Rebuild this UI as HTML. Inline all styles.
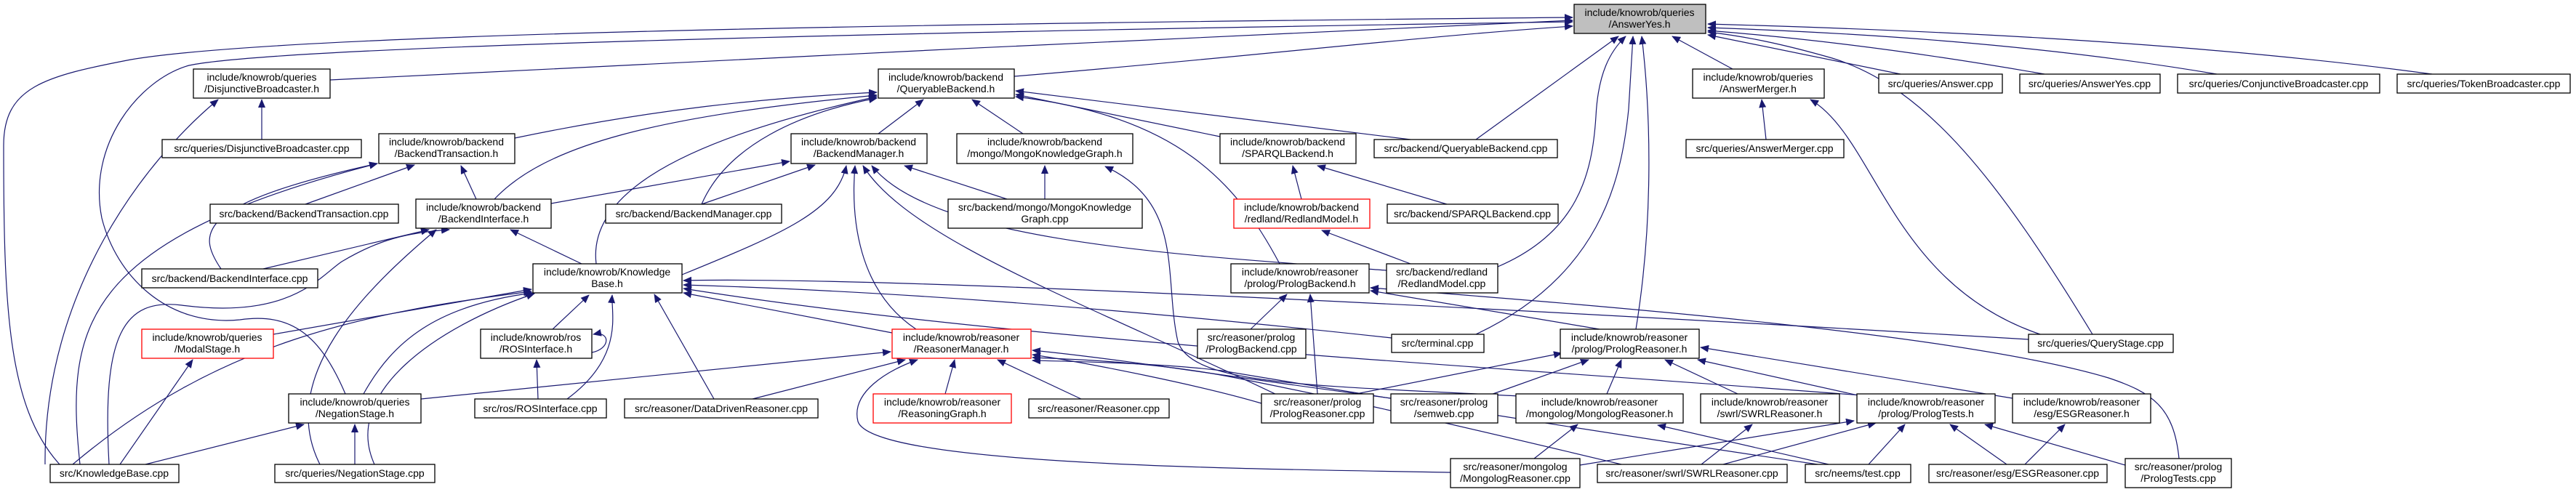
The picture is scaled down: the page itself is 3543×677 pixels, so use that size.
<!DOCTYPE html>
<html><head><meta charset="utf-8"><style>
html,body{margin:0;padding:0;background:#fff}
svg{display:block}
text{font-family:"Liberation Sans",sans-serif;font-size:14px;fill:#000;text-anchor:middle}
.n{fill:#fff;stroke:#000;stroke-width:1.3}
.r{fill:#fff;stroke:#f00;stroke-width:1.3}
.g{fill:#bfbfbf;stroke:#000;stroke-width:1.3}
.e{fill:none;stroke:#191970;stroke-width:1.2;marker-end:url(#a)}
</style></head><body>
<svg width="3543" height="677" viewBox="0 0 3543 677" xmlns="http://www.w3.org/2000/svg">
<defs><marker id="a" markerUnits="userSpaceOnUse" markerWidth="12" markerHeight="10" refX="11" refY="5" orient="auto"><path d="M0,0 L12,5 L0,10 z" fill="#191970"/></marker></defs>
<g>
<!-- edges to AnswerYes -->
<path class="e" d="M454,110 C900,85 1700,50 2163,28"/>
<path class="e" d="M82,639 C10,560 5,420 5,200 C5,120 60,105 180,82 C400,45 1300,32 2163,24"/>
<path class="e" d="M475,542 C440,460 400,430 330,440 C230,450 160,380 140,300 C120,200 190,110 260,90 C400,60 1500,40 2163,30"/>
<path class="e" d="M1395,105 C1700,80 1950,50 2163,36"/>
<path class="e" d="M2030,192 L2226,50"/>
<path class="e" d="M2060,367 C2170,320 2190,240 2195,160 C2198,100 2215,70 2236,50"/>
<path class="e" d="M2030,460 C2200,380 2230,250 2240,150 L2246,50"/>
<path class="e" d="M2250,453 C2275,300 2270,150 2258,50"/>
<path class="e" d="M2383,95 L2300,50"/>
<path class="e" d="M2614,102 L2349,48"/>
<path class="e" d="M2812,102 C2600,65 2450,50 2349,42"/>
<path class="e" d="M3049,102 C2800,60 2550,45 2349,38"/>
<path class="e" d="M3345,102 C3000,55 2600,40 2349,33"/>
<path class="e" d="M2878,460 C2750,250 2650,120 2520,80 C2450,60 2400,50 2349,44"/>
<!-- AnswerMerger -->
<path class="e" d="M2429,192 L2423,137"/>
<path class="e" d="M2806,460 C2600,390 2580,190 2490,137"/>
<!-- Disjunctive -->
<path class="e" d="M360,192 L360,137"/>
<path class="e" d="M62,639 C60,400 200,220 300,137"/>
<!-- QueryableBackend.h -->
<path class="e" d="M708,190 C900,150 1050,135 1206,127"/>
<path class="e" d="M680,274 C750,200 900,160 1206,131"/>
<path class="e" d="M965,281 C1000,200 1100,155 1206,135"/>
<path class="e" d="M820,363 C810,280 900,200 1206,133"/>
<path class="e" d="M1208,184 L1270,137"/>
<path class="e" d="M1407,184 L1337,137"/>
<path class="e" d="M1678,188 L1397,130"/>
<path class="e" d="M1940,192 L1397,125"/>
<path class="e" d="M1760,363 C1700,250 1620,160 1397,133"/>
<!-- MongoKnowledgeGraph.h -->
<path class="e" d="M2090,545 C1800,530 1640,530 1620,470 C1600,380 1630,280 1520,229"/>
<!-- BackendTransaction -->
<path class="e" d="M420,281 L570,227"/>
<path class="e" d="M655,274 L634,228"/>
<path class="e" d="M304,370 C270,320 270,280 519,225"/>
<path class="e" d="M110,639 C90,450 110,330 519,225"/>
<!-- BackendInterface -->
<path class="e" d="M362,370 L590,316"/>
<path class="e" d="M440,639 C380,520 500,400 600,316"/>
<path class="e" d="M150,639 C140,460 170,410 250,420 C400,440 440,380 470,360 C520,330 560,320 618,316"/>
<path class="e" d="M800,363 L702,316"/>
<!-- BackendManager -->
<path class="e" d="M758,280 L1086,222"/>
<path class="e" d="M965,281 L1121,227"/>
<path class="e" d="M1385,274 L1244,228"/>
<path class="e" d="M938,378 C1080,320 1150,290 1164,228"/>
<path class="e" d="M1260,453 C1180,400 1170,300 1176,228"/>
<path class="e" d="M1760,545 C1500,420 1250,330 1187,228"/>
<path class="e" d="M1907,372 C1600,350 1280,330 1199,228"/>
<path class="e" d="M1437,274 L1437,228"/>
<!-- SPARQL / Redland -->
<path class="e" d="M1790,274 L1778,228"/>
<path class="e" d="M1990,281 L1812,228"/>
<path class="e" d="M1940,363 L1818,317"/>
<!-- KnowledgeBase.h -->
<path class="e" d="M376,460 L731,398"/>
<path class="e" d="M100,639 C300,470 500,430 731,401"/>
<path class="e" d="M500,542 C540,470 600,420 733,403"/>
<path class="e" d="M515,639 C470,540 600,450 735,404"/>
<path class="e" d="M760,453 L810,406"/>
<path class="e" d="M780,549 C860,490 840,430 842,406"/>
<path class="e" d="M982,549 L900,405"/>
<path class="e" d="M1227,458 L940,403"/>
<path class="e" d="M2790,467 C2000,420 1200,380 940,386"/>
<path class="e" d="M1914,465 C1500,420 1200,400 940,392"/>
<path class="e" d="M2560,544 C2000,500 1400,470 940,397"/>
<!-- ROS -->
<path class="e" d="M814,485 C840,480 840,455 816,460"/>
<path class="e" d="M740,549 L738,495"/>
<!-- Modal / Negation -->
<path class="e" d="M165,639 L265,495"/>
<path class="e" d="M200,639 L418,584"/>
<path class="e" d="M488,639 L488,584"/>
<!-- ReasonerManager -->
<path class="e" d="M579,549 L1225,484"/>
<path class="e" d="M1035,549 L1245,495"/>
<path class="e" d="M1300,542 L1313,495"/>
<path class="e" d="M1487,549 L1372,495"/>
<path class="e" d="M1995,650 C1700,645 1200,640 1180,580 C1170,540 1220,510 1262,495"/>
<path class="e" d="M1913,548 C1700,520 1550,495 1420,482"/>
<path class="e" d="M1735,555 C1650,530 1500,500 1420,488"/>
<path class="e" d="M2230,639 C1900,560 1800,540 1700,520 C1600,500 1500,495 1420,492"/>
<path class="e" d="M2500,639 C2100,580 1800,530 1680,510 C1600,500 1500,498 1420,496"/>
<!-- PrologBackend -->
<path class="e" d="M1720,453 L1770,405"/>
<path class="e" d="M1812,542 L1802,405"/>
<path class="e" d="M2200,453 L1885,400"/>
<path class="e" d="M2997,631 C2990,560 2960,540 2900,520 C2700,460 2200,420 1885,396"/>
<!-- PrologReasoner.h -->
<path class="e" d="M1850,545 L2148,486"/>
<path class="e" d="M2045,545 L2185,495"/>
<path class="e" d="M2210,542 L2230,495"/>
<path class="e" d="M2390,542 L2290,495"/>
<path class="e" d="M2560,545 L2335,495"/>
<path class="e" d="M2768,548 L2339,478"/>
<!-- lower -->
<path class="e" d="M2110,631 L2170,584"/>
<path class="e" d="M2515,639 L2280,585"/>
<path class="e" d="M2340,639 L2410,584"/>
<path class="e" d="M2173,640 L2550,579"/>
<path class="e" d="M2370,639 L2580,582"/>
<path class="e" d="M2570,639 L2620,584"/>
<path class="e" d="M2760,639 L2682,584"/>
<path class="e" d="M2923,640 L2730,584"/>
<path class="e" d="M2785,639 L2840,584"/>
</g>
<g>
<rect class="g" x="2165" y="6" width="181" height="40"/><text x="2255" y="22">include/knowrob/queries</text><text x="2255" y="38">/AnswerYes.h</text>
<rect class="n" x="266" y="95" width="188" height="40"/><text x="360" y="111">include/knowrob/queries</text><text x="360" y="127">/DisjunctiveBroadcaster.h</text>
<rect class="n" x="223" y="192" width="274" height="25"/><text x="360" y="209">src/queries/DisjunctiveBroadcaster.cpp</text>
<rect class="n" x="521" y="184" width="187" height="41"/><text x="614" y="200">include/knowrob/backend</text><text x="614" y="216">/BackendTransaction.h</text>
<rect class="n" x="289" y="281" width="259" height="26"/><text x="418" y="299">src/backend/BackendTransaction.cpp</text>
<rect class="n" x="572" y="274" width="186" height="40"/><text x="665" y="290">include/knowrob/backend</text><text x="665" y="306">/BackendInterface.h</text>
<rect class="n" x="833" y="281" width="242" height="26"/><text x="954" y="299">src/backend/BackendManager.cpp</text>
<rect class="n" x="195" y="370" width="242" height="26"/><text x="316" y="388">src/backend/BackendInterface.cpp</text>
<rect class="n" x="733" y="363" width="205" height="40"/><text x="835" y="379">include/knowrob/Knowledge</text><text x="835" y="395">Base.h</text>
<rect class="r" x="195" y="453" width="181" height="40"/><text x="285" y="469">include/knowrob/queries</text><text x="285" y="485">/ModalStage.h</text>
<rect class="n" x="661" y="453" width="153" height="40"/><text x="737" y="469">include/knowrob/ros</text><text x="737" y="485">/ROSInterface.h</text>
<rect class="n" x="397" y="542" width="182" height="40"/><text x="488" y="558">include/knowrob/queries</text><text x="488" y="574">/NegationStage.h</text>
<rect class="n" x="653" y="549" width="181" height="26"/><text x="743" y="567">src/ros/ROSInterface.cpp</text>
<rect class="n" x="859" y="549" width="266" height="26"/><text x="992" y="567">src/reasoner/DataDrivenReasoner.cpp</text>
<rect class="n" x="69" y="639" width="177" height="25"/><text x="157" y="656">src/KnowledgeBase.cpp</text>
<rect class="n" x="378" y="639" width="220" height="25"/><text x="488" y="656">src/queries/NegationStage.cpp</text>
<rect class="n" x="1208" y="95" width="187" height="40"/><text x="1301" y="111">include/knowrob/backend</text><text x="1301" y="127">/QueryableBackend.h</text>
<rect class="n" x="1088" y="184" width="187" height="41"/><text x="1181" y="200">include/knowrob/backend</text><text x="1181" y="216">/BackendManager.h</text>
<rect class="n" x="1316" y="184" width="242" height="41"/><text x="1437" y="200">include/knowrob/backend</text><text x="1437" y="216">/mongo/MongoKnowledgeGraph.h</text>
<rect class="n" x="1678" y="184" width="187" height="41"/><text x="1771" y="200">include/knowrob/backend</text><text x="1771" y="216">/SPARQLBackend.h</text>
<rect class="n" x="1304" y="274" width="267" height="40"/><text x="1437" y="290">src/backend/mongo/MongoKnowledge</text><text x="1437" y="306">Graph.cpp</text>
<rect class="r" x="1697" y="274" width="187" height="40"/><text x="1790" y="290">include/knowrob/backend</text><text x="1790" y="306">/redland/RedlandModel.h</text>
<rect class="r" x="1227" y="453" width="191" height="40"/><text x="1322" y="469">include/knowrob/reasoner</text><text x="1322" y="485">/ReasonerManager.h</text>
<rect class="r" x="1201" y="542" width="190" height="40"/><text x="1296" y="558">include/knowrob/reasoner</text><text x="1296" y="574">/ReasoningGraph.h</text>
<rect class="n" x="1415" y="549" width="193" height="26"/><text x="1511" y="567">src/reasoner/Reasoner.cpp</text>
<rect class="n" x="1693" y="363" width="190" height="40"/><text x="1788" y="379">include/knowrob/reasoner</text><text x="1788" y="395">/prolog/PrologBackend.h</text>
<rect class="n" x="1647" y="453" width="149" height="40"/><text x="1721" y="469">src/reasoner/prolog</text><text x="1721" y="485">/PrologBackend.cpp</text>
<rect class="n" x="1735" y="542" width="154" height="40"/><text x="1812" y="558">src/reasoner/prolog</text><text x="1812" y="574">/PrologReasoner.cpp</text>
<rect class="n" x="2584" y="102" width="170" height="26"/><text x="2669" y="120">src/queries/Answer.cpp</text>
<rect class="n" x="2778" y="102" width="193" height="26"/><text x="2874" y="120">src/queries/AnswerYes.cpp</text>
<rect class="n" x="2995" y="102" width="278" height="26"/><text x="3134" y="120">src/queries/ConjunctiveBroadcaster.cpp</text>
<rect class="n" x="3297" y="102" width="238" height="26"/><text x="3416" y="120">src/queries/TokenBroadcaster.cpp</text>
<rect class="n" x="2328" y="95" width="181" height="40"/><text x="2418" y="111">include/knowrob/queries</text><text x="2418" y="127">/AnswerMerger.h</text>
<rect class="n" x="1890" y="192" width="252" height="25"/><text x="2016" y="209">src/backend/QueryableBackend.cpp</text>
<rect class="n" x="2319" y="192" width="217" height="25"/><text x="2427" y="209">src/queries/AnswerMerger.cpp</text>
<rect class="n" x="1908" y="281" width="235" height="26"/><text x="2025" y="299">src/backend/SPARQLBackend.cpp</text>
<rect class="n" x="1907" y="363" width="153" height="40"/><text x="1983" y="379">src/backend/redland</text><text x="1983" y="395">/RedlandModel.cpp</text>
<rect class="n" x="1914" y="460" width="127" height="25"/><text x="1977" y="477">src/terminal.cpp</text>
<rect class="n" x="2146" y="453" width="191" height="40"/><text x="2241" y="469">include/knowrob/reasoner</text><text x="2241" y="485">/prolog/PrologReasoner.h</text>
<rect class="n" x="1913" y="542" width="147" height="40"/><text x="1986" y="558">src/reasoner/prolog</text><text x="1986" y="574">/semweb.cpp</text>
<rect class="n" x="2085" y="542" width="230" height="40"/><text x="2200" y="558">include/knowrob/reasoner</text><text x="2200" y="574">/mongolog/MongologReasoner.h</text>
<rect class="n" x="2339" y="542" width="191" height="40"/><text x="2434" y="558">include/knowrob/reasoner</text><text x="2434" y="574">/swrl/SWRLReasoner.h</text>
<rect class="n" x="2554" y="542" width="190" height="40"/><text x="2649" y="558">include/knowrob/reasoner</text><text x="2649" y="574">/prolog/PrologTests.h</text>
<rect class="n" x="1995" y="631" width="178" height="40"/><text x="2084" y="647">src/reasoner/mongolog</text><text x="2084" y="663">/MongologReasoner.cpp</text>
<rect class="n" x="2197" y="639" width="261" height="25"/><text x="2327" y="656">src/reasoner/swrl/SWRLReasoner.cpp</text>
<rect class="n" x="2483" y="639" width="145" height="25"/><text x="2555" y="656">src/neems/test.cpp</text>
<rect class="n" x="2653" y="639" width="245" height="25"/><text x="2775" y="656">src/reasoner/esg/ESGReasoner.cpp</text>
<rect class="n" x="2790" y="460" width="199" height="25"/><text x="2889" y="477">src/queries/QueryStage.cpp</text>
<rect class="n" x="2768" y="542" width="190" height="40"/><text x="2863" y="558">include/knowrob/reasoner</text><text x="2863" y="574">/esg/ESGReasoner.h</text>
<rect class="n" x="2923" y="631" width="146" height="40"/><text x="2996" y="647">src/reasoner/prolog</text><text x="2996" y="663">/PrologTests.cpp</text>
</g>
</svg>
</body></html>
